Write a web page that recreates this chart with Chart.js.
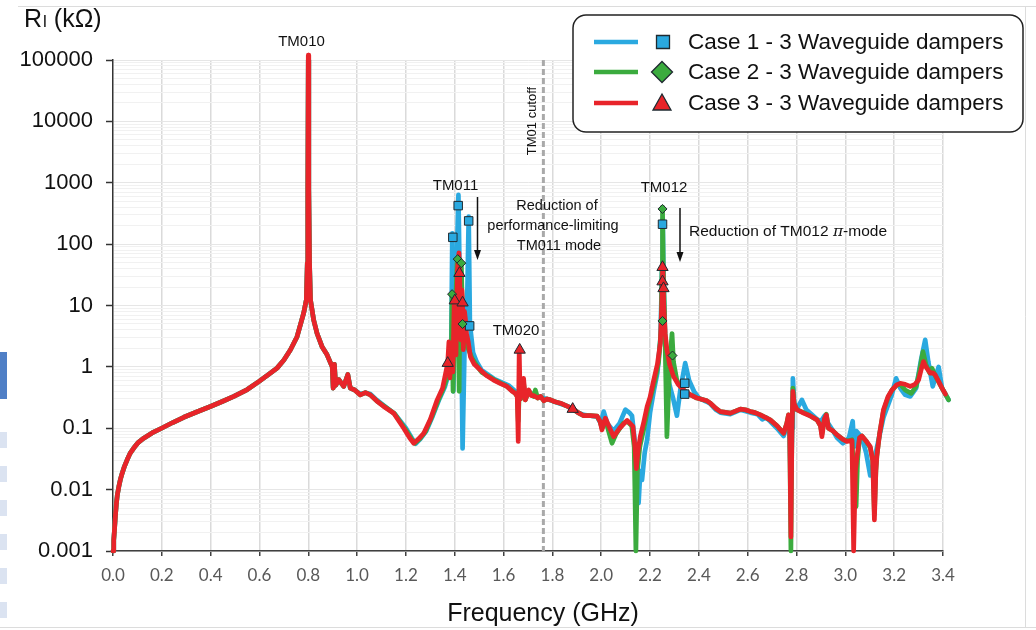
<!DOCTYPE html>
<html><head><meta charset="utf-8">
<script src="https://cdn.jsdelivr.net/npm/chart.js@4.4.1/dist/chart.umd.min.js"></script>
<style>html,body{margin:0;padding:0;background:#fff;overflow:hidden}canvas{display:block}</style>
</head><body>
<canvas id="c" width="1036" height="630"></canvas>
<script>
// ---------- DATA ----------
const xTickValues = [0,0.2,0.4,0.6,0.8,1.0,1.2,1.4,1.6,1.8,2.0,2.2,2.4,2.6,2.8,3.0,3.2,3.4];
const xTickLabels = ["0.0","0.2","0.4","0.6","0.8","1.0","1.2","1.4","1.6","1.8","2.0","2.2","2.4","2.6","2.8","3.0","3.2","3.4"];
const yTickValues = [0.001,0.01,0.1,1,10,100,1000,10000,100000];
const yTickLabels = ["0.001","0.01","0.1","1","10","100","1000","10000","100000"];
const seriesNames = ["Case 1 - 3 Waveguide dampers","Case 2 - 3 Waveguide dampers","Case 3 - 3 Waveguide dampers"];
const cutoffFrequency = 1.763;

// Case 1 (blue) [GHz, kOhm]
const case1Line = [
[0.000,0.001],[0.003,0.0015],[0.006,0.0022],[0.010,0.0038],[0.014,0.006],[0.018,0.0083],[0.024,0.0112],[0.030,0.0145],[0.038,0.0187],[0.047,0.024],[0.058,0.0306],[0.070,0.039],[0.085,0.0475],[0.104,0.059],[0.126,0.069],[0.160,0.084],[0.199,0.10],[0.245,0.124],[0.29,0.151],[0.345,0.186],[0.399,0.226],[0.45,0.275],[0.495,0.33],[0.55,0.427],[0.597,0.575],[0.635,0.74],[0.672,0.955],[0.70,1.29],[0.727,1.9],[0.754,3.1],[0.781,7.5],[0.792,12.4],[0.796,50],[0.798,800],[0.800,100000],[0.802,800],[0.805,50],[0.809,12.4],[0.822,5.8],[0.836,3.5],[0.857,2.1],[0.877,1.57],[0.898,1.0],[0.902,0.45],[0.907,1.1],[0.912,0.50],[0.925,0.62],[0.945,0.48],[0.962,0.75],[0.972,0.45],[0.99,0.42],[1.013,0.36],[1.034,0.38],[1.054,0.36],[1.08,0.29],[1.115,0.226],[1.155,0.17],[1.20,0.10],[1.225,0.068],[1.240,0.056],[1.26,0.068],[1.283,0.09],[1.31,0.16],[1.337,0.30],[1.36,0.48],[1.380,0.9],[1.386,3],[1.390,150],[1.394,0.4],[1.400,5],[1.410,100],[1.415,635],[1.420,30],[1.427,3],[1.432,0.047],[1.440,2],[1.452,20],[1.457,280],[1.462,5],[1.475,1.7],[1.49,1.2],[1.51,0.88],[1.56,0.64],[1.62,0.50],[1.648,0.40],[1.658,0.33],[1.665,0.36],[1.682,0.50],[1.689,0.31],[1.703,0.40],[1.723,0.34],[1.751,0.32],[1.778,0.30],[1.81,0.27],[1.833,0.25],[1.86,0.23],[1.883,0.21],[1.905,0.18],[1.928,0.165],[1.955,0.16],[1.983,0.155],[1.998,0.12],[2.010,0.187],[2.025,0.12],[2.05,0.09],[2.075,0.12],[2.099,0.20],[2.115,0.18],[2.126,0.16],[2.140,0.05],[2.153,0.006],[2.160,0.02],[2.167,0.0144],[2.178,0.04],[2.188,0.065],[2.200,0.18],[2.215,0.40],[2.23,0.8],[2.243,3],[2.249,40],[2.252,260],[2.255,30],[2.262,2.5],[2.275,0.6],[2.295,0.3],[2.310,0.16],[2.325,0.45],[2.344,1.15],[2.36,0.6],[2.38,0.40],[2.40,0.31],[2.433,0.27],[2.447,0.25],[2.47,0.20],[2.488,0.18],[2.529,0.17],[2.570,0.20],[2.611,0.18],[2.64,0.17],[2.66,0.14],[2.675,0.15],[2.692,0.13],[2.72,0.10],[2.747,0.075],[2.765,0.12],[2.772,0.08],[2.777,0.01],[2.782,0.1],[2.785,0.65],[2.792,0.20],[2.805,0.22],[2.822,0.29],[2.84,0.20],[2.86,0.17],[2.884,0.14],[2.90,0.13],[2.915,0.16],[2.93,0.12],[2.95,0.09],[2.966,0.07],[2.99,0.057],[3.015,0.07],[3.030,0.13],[3.036,0.05],[3.045,0.09],[3.068,0.07],[3.085,0.04],[3.102,0.017],[3.115,0.025],[3.13,0.05],[3.156,0.15],[3.19,0.35],[3.208,0.65],[3.225,0.45],[3.245,0.35],[3.266,0.33],[3.29,0.45],[3.310,1.3],[3.327,2.75],[3.34,1.2],[3.358,0.48],[3.370,0.7],[3.382,1.0],[3.396,0.45],[3.423,0.29],[3.437,0.30]
];
// Case 2 (green)
const case2Line = [
[0.000,0.001],[0.003,0.0015],[0.006,0.0022],[0.010,0.0038],[0.014,0.006],[0.018,0.0083],[0.024,0.0112],[0.030,0.0145],[0.038,0.0187],[0.047,0.024],[0.058,0.0306],[0.070,0.039],[0.085,0.0475],[0.104,0.059],[0.126,0.069],[0.160,0.084],[0.199,0.10],[0.245,0.124],[0.29,0.151],[0.345,0.186],[0.399,0.226],[0.45,0.275],[0.495,0.33],[0.55,0.427],[0.597,0.575],[0.635,0.74],[0.672,0.955],[0.70,1.29],[0.727,1.9],[0.754,3.1],[0.781,7.5],[0.792,12.4],[0.796,50],[0.798,800],[0.800,100000],[0.802,800],[0.805,50],[0.809,12.4],[0.822,5.8],[0.836,3.5],[0.857,2.1],[0.877,1.57],[0.898,1.0],[0.902,0.45],[0.907,1.1],[0.912,0.50],[0.925,0.62],[0.945,0.48],[0.962,0.75],[0.972,0.45],[0.99,0.42],[1.013,0.35],[1.034,0.38],[1.054,0.35],[1.08,0.28],[1.112,0.226],[1.152,0.175],[1.195,0.10],[1.222,0.068],[1.236,0.057],[1.255,0.066],[1.28,0.088],[1.305,0.15],[1.333,0.29],[1.355,0.46],[1.376,0.85],[1.386,1.5],[1.389,15],[1.393,0.4],[1.400,8],[1.406,20],[1.410,57],[1.414,5],[1.418,0.4],[1.422,30],[1.427,49],[1.432,5],[1.440,2.5],[1.455,2.0],[1.47,1.4],[1.49,1.05],[1.51,0.82],[1.56,0.62],[1.614,0.48],[1.648,0.37],[1.656,0.33],[1.660,0.13],[1.665,0.45],[1.670,0.30],[1.682,0.55],[1.689,0.29],[1.703,0.40],[1.723,0.33],[1.730,0.42],[1.74,0.31],[1.751,0.33],[1.765,0.28],[1.778,0.30],[1.792,0.29],[1.81,0.27],[1.833,0.256],[1.86,0.23],[1.883,0.205],[1.905,0.18],[1.928,0.16],[1.955,0.16],[1.983,0.158],[1.995,0.13],[2.003,0.10],[2.017,0.14],[2.030,0.09],[2.044,0.057],[2.06,0.08],[2.09,0.12],[2.106,0.13],[2.125,0.11],[2.135,0.05],[2.142,0.001],[2.148,0.02],[2.158,0.05],[2.175,0.10],[2.19,0.20],[2.205,0.35],[2.22,0.6],[2.235,1.2],[2.245,4],[2.249,40],[2.251,400],[2.254,40],[2.260,5.6],[2.265,0.5],[2.269,0.073],[2.276,0.4],[2.285,2.0],[2.290,3.5],[2.296,1.2],[2.31,0.6],[2.337,0.42],[2.36,0.36],[2.392,0.31],[2.433,0.28],[2.447,0.256],[2.47,0.21],[2.488,0.187],[2.529,0.176],[2.55,0.19],[2.570,0.205],[2.590,0.20],[2.611,0.187],[2.630,0.18],[2.652,0.165],[2.692,0.137],[2.72,0.11],[2.747,0.083],[2.760,0.12],[2.767,0.165],[2.772,0.09],[2.777,0.001],[2.781,0.08],[2.785,0.45],[2.790,0.25],[2.802,0.20],[2.829,0.18],[2.855,0.16],[2.884,0.137],[2.898,0.11],[2.904,0.08],[2.914,0.14],[2.922,0.17],[2.931,0.10],[2.950,0.09],[2.966,0.078],[2.990,0.066],[3.006,0.062],[3.027,0.065],[3.034,0.02],[3.044,0.0053],[3.050,0.03],[3.058,0.07],[3.068,0.075],[3.085,0.062],[3.102,0.048],[3.112,0.03],[3.119,0.004],[3.125,0.02],[3.129,0.035],[3.140,0.08],[3.156,0.19],[3.175,0.32],[3.191,0.42],[3.210,0.50],[3.225,0.52],[3.245,0.42],[3.270,0.37],[3.290,0.48],[3.305,0.9],[3.318,1.77],[3.33,1.1],[3.345,0.8],[3.355,0.95],[3.368,0.72],[3.396,0.45],[3.423,0.29],[3.437,0.30]
];
// Case 3 (red)
const case3Line = [
[0.000,0.001],[0.003,0.0015],[0.006,0.0022],[0.010,0.0038],[0.014,0.006],[0.018,0.0083],[0.024,0.0112],[0.030,0.0145],[0.038,0.0187],[0.047,0.024],[0.058,0.0306],[0.070,0.039],[0.085,0.0475],[0.104,0.059],[0.126,0.069],[0.160,0.084],[0.199,0.10],[0.245,0.124],[0.29,0.151],[0.345,0.186],[0.399,0.226],[0.45,0.275],[0.495,0.33],[0.55,0.427],[0.597,0.575],[0.635,0.74],[0.672,0.955],[0.70,1.29],[0.727,1.9],[0.754,3.1],[0.781,7.5],[0.792,12.4],[0.796,50],[0.798,800],[0.800,120000],[0.802,800],[0.805,50],[0.809,12.4],[0.822,5.8],[0.836,3.5],[0.857,2.1],[0.877,1.57],[0.898,1.0],[0.902,0.45],[0.907,1.1],[0.912,0.50],[0.925,0.62],[0.945,0.48],[0.962,0.75],[0.972,0.45],[0.99,0.42],[1.013,0.35],[1.034,0.38],[1.054,0.35],[1.08,0.28],[1.109,0.226],[1.15,0.176],[1.191,0.10],[1.215,0.07],[1.232,0.057],[1.25,0.066],[1.273,0.083],[1.30,0.14],[1.328,0.29],[1.35,0.45],[1.371,1.15],[1.376,2.55],[1.380,0.66],[1.386,2.28],[1.392,0.83],[1.398,12.3],[1.401,12],[1.405,1.57],[1.411,38],[1.417,72],[1.420,33],[1.425,2.75],[1.429,18],[1.432,11],[1.435,1.9],[1.440,8],[1.444,5.8],[1.448,3.5],[1.455,2.6],[1.464,1.47],[1.48,1.1],[1.505,0.89],[1.53,0.72],[1.559,0.61],[1.59,0.53],[1.614,0.48],[1.635,0.40],[1.648,0.37],[1.656,0.33],[1.660,0.061],[1.664,1.9],[1.668,0.30],[1.676,0.45],[1.682,0.65],[1.689,0.29],[1.703,0.42],[1.713,0.34],[1.723,0.34],[1.74,0.31],[1.751,0.33],[1.765,0.28],[1.778,0.30],[1.792,0.29],[1.81,0.27],[1.833,0.256],[1.86,0.23],[1.883,0.205],[1.905,0.18],[1.928,0.16],[1.955,0.16],[1.983,0.158],[1.995,0.13],[2.003,0.094],[2.017,0.146],[2.035,0.10],[2.051,0.073],[2.075,0.10],[2.106,0.134],[2.130,0.107],[2.138,0.05],[2.144,0.022],[2.150,0.04],[2.160,0.073],[2.175,0.13],[2.188,0.226],[2.200,0.32],[2.215,0.61],[2.23,1.1],[2.242,2.43],[2.248,10],[2.252,46],[2.256,10],[2.262,3.5],[2.269,1.9],[2.28,1.1],[2.296,0.70],[2.315,0.52],[2.337,0.42],[2.36,0.36],[2.392,0.31],[2.433,0.28],[2.447,0.256],[2.47,0.21],[2.488,0.187],[2.529,0.176],[2.55,0.19],[2.570,0.205],[2.590,0.20],[2.611,0.187],[2.630,0.18],[2.652,0.165],[2.692,0.137],[2.72,0.11],[2.747,0.083],[2.760,0.12],[2.767,0.165],[2.772,0.10],[2.777,0.0017],[2.781,0.08],[2.785,0.40],[2.790,0.25],[2.802,0.20],[2.829,0.176],[2.855,0.16],[2.884,0.137],[2.898,0.11],[2.904,0.073],[2.914,0.14],[2.922,0.165],[2.931,0.10],[2.950,0.09],[2.966,0.078],[2.990,0.066],[3.006,0.061],[3.027,0.063],[3.034,0.001],[3.041,0.02],[3.048,0.035],[3.058,0.07],[3.068,0.075],[3.085,0.062],[3.102,0.050],[3.112,0.03],[3.119,0.0032],[3.125,0.02],[3.129,0.035],[3.140,0.08],[3.156,0.20],[3.175,0.33],[3.191,0.42],[3.210,0.51],[3.225,0.54],[3.245,0.52],[3.266,0.48],[3.285,0.52],[3.300,0.61],[3.312,0.95],[3.320,1.22],[3.33,1.0],[3.348,0.79],[3.358,0.80],[3.368,0.74],[3.382,0.58],[3.396,0.45],[3.410,0.36],[3.423,0.29],[3.437,0.30]
];
// Marked points
const case1Markers = [[1.392,129],[1.414,424],[1.457,239],[1.461,4.65],[2.251,211],[2.342,0.54],[2.342,0.36]];
const case2Markers = [[1.389,15.3],[1.412,57],[1.427,49],[1.432,5.0],[2.251,374],[2.251,5.6],[2.292,1.53]];
const case3Markers = [[1.371,1.15],[1.400,12.0],[1.419,33.6],[1.432,11.1],[1.666,1.89],[1.883,0.205],[2.251,42],[2.251,24.5],[2.255,19]];

// ---------- STYLE ----------
const BLUE = '#2aa9e0', GREEN = '#3bab3e', RED = '#e8242a';
const MARK_EDGE = '#1f2a30';
const toXY = a => a.map(p => ({x:p[0], y:p[1]}));
const isDecade = v => Math.abs(Math.log10(v) - Math.round(Math.log10(v))) < 1e-6;
const yAllTicks = [];
yTickValues.forEach((d,i) => { yAllTicks.push(d); if (i < yTickValues.length-1) for (let k=2;k<=9;k++) yAllTicks.push(d*k); });

const overlay = {
  id:'overlay',
  beforeDraw(chart){
    const c = chart.ctx;
    c.save();
    c.fillStyle = '#fff'; c.fillRect(0,0,chart.width,chart.height);
    c.strokeStyle = '#dcdcdc'; c.lineWidth = 1;
    c.beginPath(); c.moveTo(18,6.5); c.lineTo(1036,6.5); c.moveTo(1025.5,6.5); c.lineTo(1025.5,627); c.moveTo(0,627.5); c.lineTo(1036,627.5); c.stroke();
    c.fillStyle = '#4f7fc6'; c.fillRect(0,352,7,47);
    c.fillStyle = '#dbe3f1';
    [432,466,500,534,568,602].forEach(y => c.fillRect(0,y,7,16));
    c.restore();
  },
  beforeDatasetsDraw(chart){
    const c = chart.ctx, xs = chart.scales.x, a = chart.chartArea;
    const px = xs.getPixelForValue(cutoffFrequency);
    c.save();
    c.strokeStyle = '#a9a9a9'; c.lineWidth = 3; c.setLineDash([6,3]);
    c.beginPath(); c.moveTo(px, a.top); c.lineTo(px, a.bottom); c.stroke();
    c.restore();
  },
  afterDatasetsDraw(chart){
    const c = chart.ctx;
    c.save();
    c.fillStyle = '#111';
    c.textAlign = 'center'; c.textBaseline = 'middle';
    c.font = '15px "Liberation Sans", Arial, sans-serif';
    c.fillText('TM010', 301.5, 42);
    c.fillText('TM011', 455.5, 186);
    c.fillText('TM020', 516, 331);
    c.fillText('TM012', 664, 188);
    c.font = '14.5px "Liberation Sans", Arial, sans-serif';
    c.fillText('Reduction of', 557, 206);
    c.fillText('performance-limiting', 553, 226);
    c.fillText('TM011 mode', 559, 246);
    c.textAlign = 'left';
    c.font = '15.5px "Liberation Sans", Arial, sans-serif';
    const t1 = 'Reduction of TM012 ';
    c.fillText(t1, 689, 232);
    const w1 = c.measureText(t1).width;
    c.font = 'italic 15.5px "DejaVu Serif", serif';
    c.fillText('\u03C0', 689 + w1, 232);
    const w2 = c.measureText('\u03C0').width;
    c.font = '15.5px "Liberation Sans", Arial, sans-serif';
    c.fillText('-mode', 689 + w1 + w2, 232);
    const arrow = (x, y0, y1) => {
      c.strokeStyle = '#111'; c.lineWidth = 1.5;
      c.beginPath(); c.moveTo(x, y0); c.lineTo(x, y1 - 8); c.stroke();
      c.beginPath(); c.moveTo(x - 3.5, y1 - 10); c.lineTo(x + 3.5, y1 - 10); c.lineTo(x, y1); c.closePath(); c.fill();
    };
    arrow(477.5, 197, 260);
    arrow(680, 208, 262);
    c.save();
    c.translate(532, 121); c.rotate(-Math.PI/2);
    c.textAlign = 'center'; c.textBaseline = 'middle';
    c.font = '13px "Liberation Sans", Arial, sans-serif';
    c.fillText('TM01 cutoff', 0, 0);
    c.restore();
    // axis titles
    c.textAlign = 'left'; c.textBaseline = 'alphabetic';
    c.font = '25px "Liberation Sans", Arial, sans-serif';
    c.fillText('R', 24, 27);
    let xx = 24 + c.measureText('R').width + 1;
    c.font = '17px "Liberation Sans", Arial, sans-serif';
    c.fillText('l', xx, 27);
    xx += c.measureText('l').width + 3;
    c.font = '25px "Liberation Sans", Arial, sans-serif';
    c.fillText('(k\u03A9)', xx + 4, 27);
    c.textAlign = 'center';
    c.font = '25px "Liberation Sans", Arial, sans-serif';
    c.fillText('Frequency (GHz)', 543, 621);
    // legend
    const bx = 573, by = 15, bw = 450, bh = 117, r = 13;
    c.fillStyle = '#fff'; c.strokeStyle = '#222'; c.lineWidth = 1.5;
    c.beginPath(); c.roundRect(bx, by, bw, bh, r); c.fill(); c.stroke();
    const rows = [42, 72, 103];
    const cols = [BLUE, GREEN, RED];
    c.font = '22.5px "Liberation Sans", Arial, sans-serif';
    c.textAlign = 'left'; c.textBaseline = 'middle';
    rows.forEach((y, i) => {
      c.strokeStyle = cols[i]; c.lineWidth = 4.5;
      c.beginPath(); c.moveTo(594, y); c.lineTo(638, y); c.stroke();
      c.fillStyle = cols[i]; c.strokeStyle = MARK_EDGE; c.lineWidth = 1.3;
      c.beginPath();
      if (i === 0) { c.rect(656.5, y - 6.5, 13, 13); }
      else if (i === 1) { c.moveTo(662, y - 10.5); c.lineTo(672.5, y); c.lineTo(662, y + 10.5); c.lineTo(651.5, y); c.closePath(); }
      else { c.moveTo(662, y - 9); c.lineTo(671, y + 7); c.lineTo(653, y + 7); c.closePath(); }
      c.fill(); c.stroke();
      c.fillStyle = '#111';
      c.fillText(seriesNames[i], 688, y + 1);
    });
    c.restore();
  }
};

const lineDs = (name, pts, color, order) => ({
  label: name, data: toXY(pts), borderColor: color, backgroundColor: color,
  borderWidth: 4.7, pointRadius: 0, tension: 0, order, clip: false,
  borderJoinStyle: 'round', borderCapStyle: 'round'
});
const markDs = (name, pts, color, style, radius) => ({
  label: name, data: toXY(pts), showLine: false, pointStyle: style, pointRadius: radius,
  pointBackgroundColor: color, pointBorderColor: MARK_EDGE, pointBorderWidth: 1, order: 0, clip: false
});

new Chart(document.getElementById('c'), {
  type: 'line',
  data: { datasets: [
    markDs(seriesNames[2]+' points', case3Markers, RED, 'triangle', 6.5),
    markDs(seriesNames[1]+' points', case2Markers, GREEN, 'rectRot', 4.5),
    markDs(seriesNames[0]+' points', case1Markers, BLUE, 'rect', 6),
    lineDs(seriesNames[2], case3Line, RED, 1),
    lineDs(seriesNames[1], case2Line, GREEN, 2),
    lineDs(seriesNames[0], case1Line, BLUE, 3)
  ]},
  options: {
    responsive: false, animation: false, devicePixelRatio: 1,
    layout: { padding: { left: 0, right: 93, top: 60, bottom: 0 } },
    plugins: { legend: { display: false }, tooltip: { enabled: false } },
    scales: {
      x: {
        type: 'linear', min: 0, max: 3.4,
        afterBuildTicks: s => { s.ticks = xTickValues.map(v => ({ value: v })); },
        afterFit: s => { s.height = 79; },
        ticks: { autoSkip: false, maxRotation: 0, padding: 9, color: '#595959',
          font: { family: 'Lato', size: 17 },
          callback: (v, i) => xTickLabels[i] },
        grid: { color: c => (c.tick && c.tick.value === 0) ? 'rgba(0,0,0,0)' : '#dadada',
          lineWidth: 1.5, tickLength: 5, tickColor: '#404040', tickWidth: 1.5 },
        border: { display: true, color: '#404040', width: 1.5 }
      },
      y: {
        type: 'logarithmic', min: 0.001, max: 100000,
        afterBuildTicks: s => { s.ticks = yAllTicks.map(v => ({ value: v, major: isDecade(v) })); },
        afterFit: s => { s.width = 113; },
        ticks: { autoSkip: false, padding: 13, color: '#111',
          font: { family: '"Liberation Sans", Arial', size: 22 },
          callback: v => { const i = yTickValues.findIndex(t => Math.abs(t - v) / t < 1e-6); return i >= 0 ? yTickLabels[i] : ''; } },
        grid: { color: c => (c.tick && isDecade(c.tick.value)) ? '#e6e6e6' : '#f1f1f1',
          lineWidth: 1, tickLength: 7, tickWidth: 1.5,
          tickColor: c => (c.tick && isDecade(c.tick.value)) ? '#333' : 'rgba(0,0,0,0)' },
        border: { display: true, color: '#333', width: 1.5 }
      }
    }
  },
  plugins: [overlay]
});
</script>
</body></html>
